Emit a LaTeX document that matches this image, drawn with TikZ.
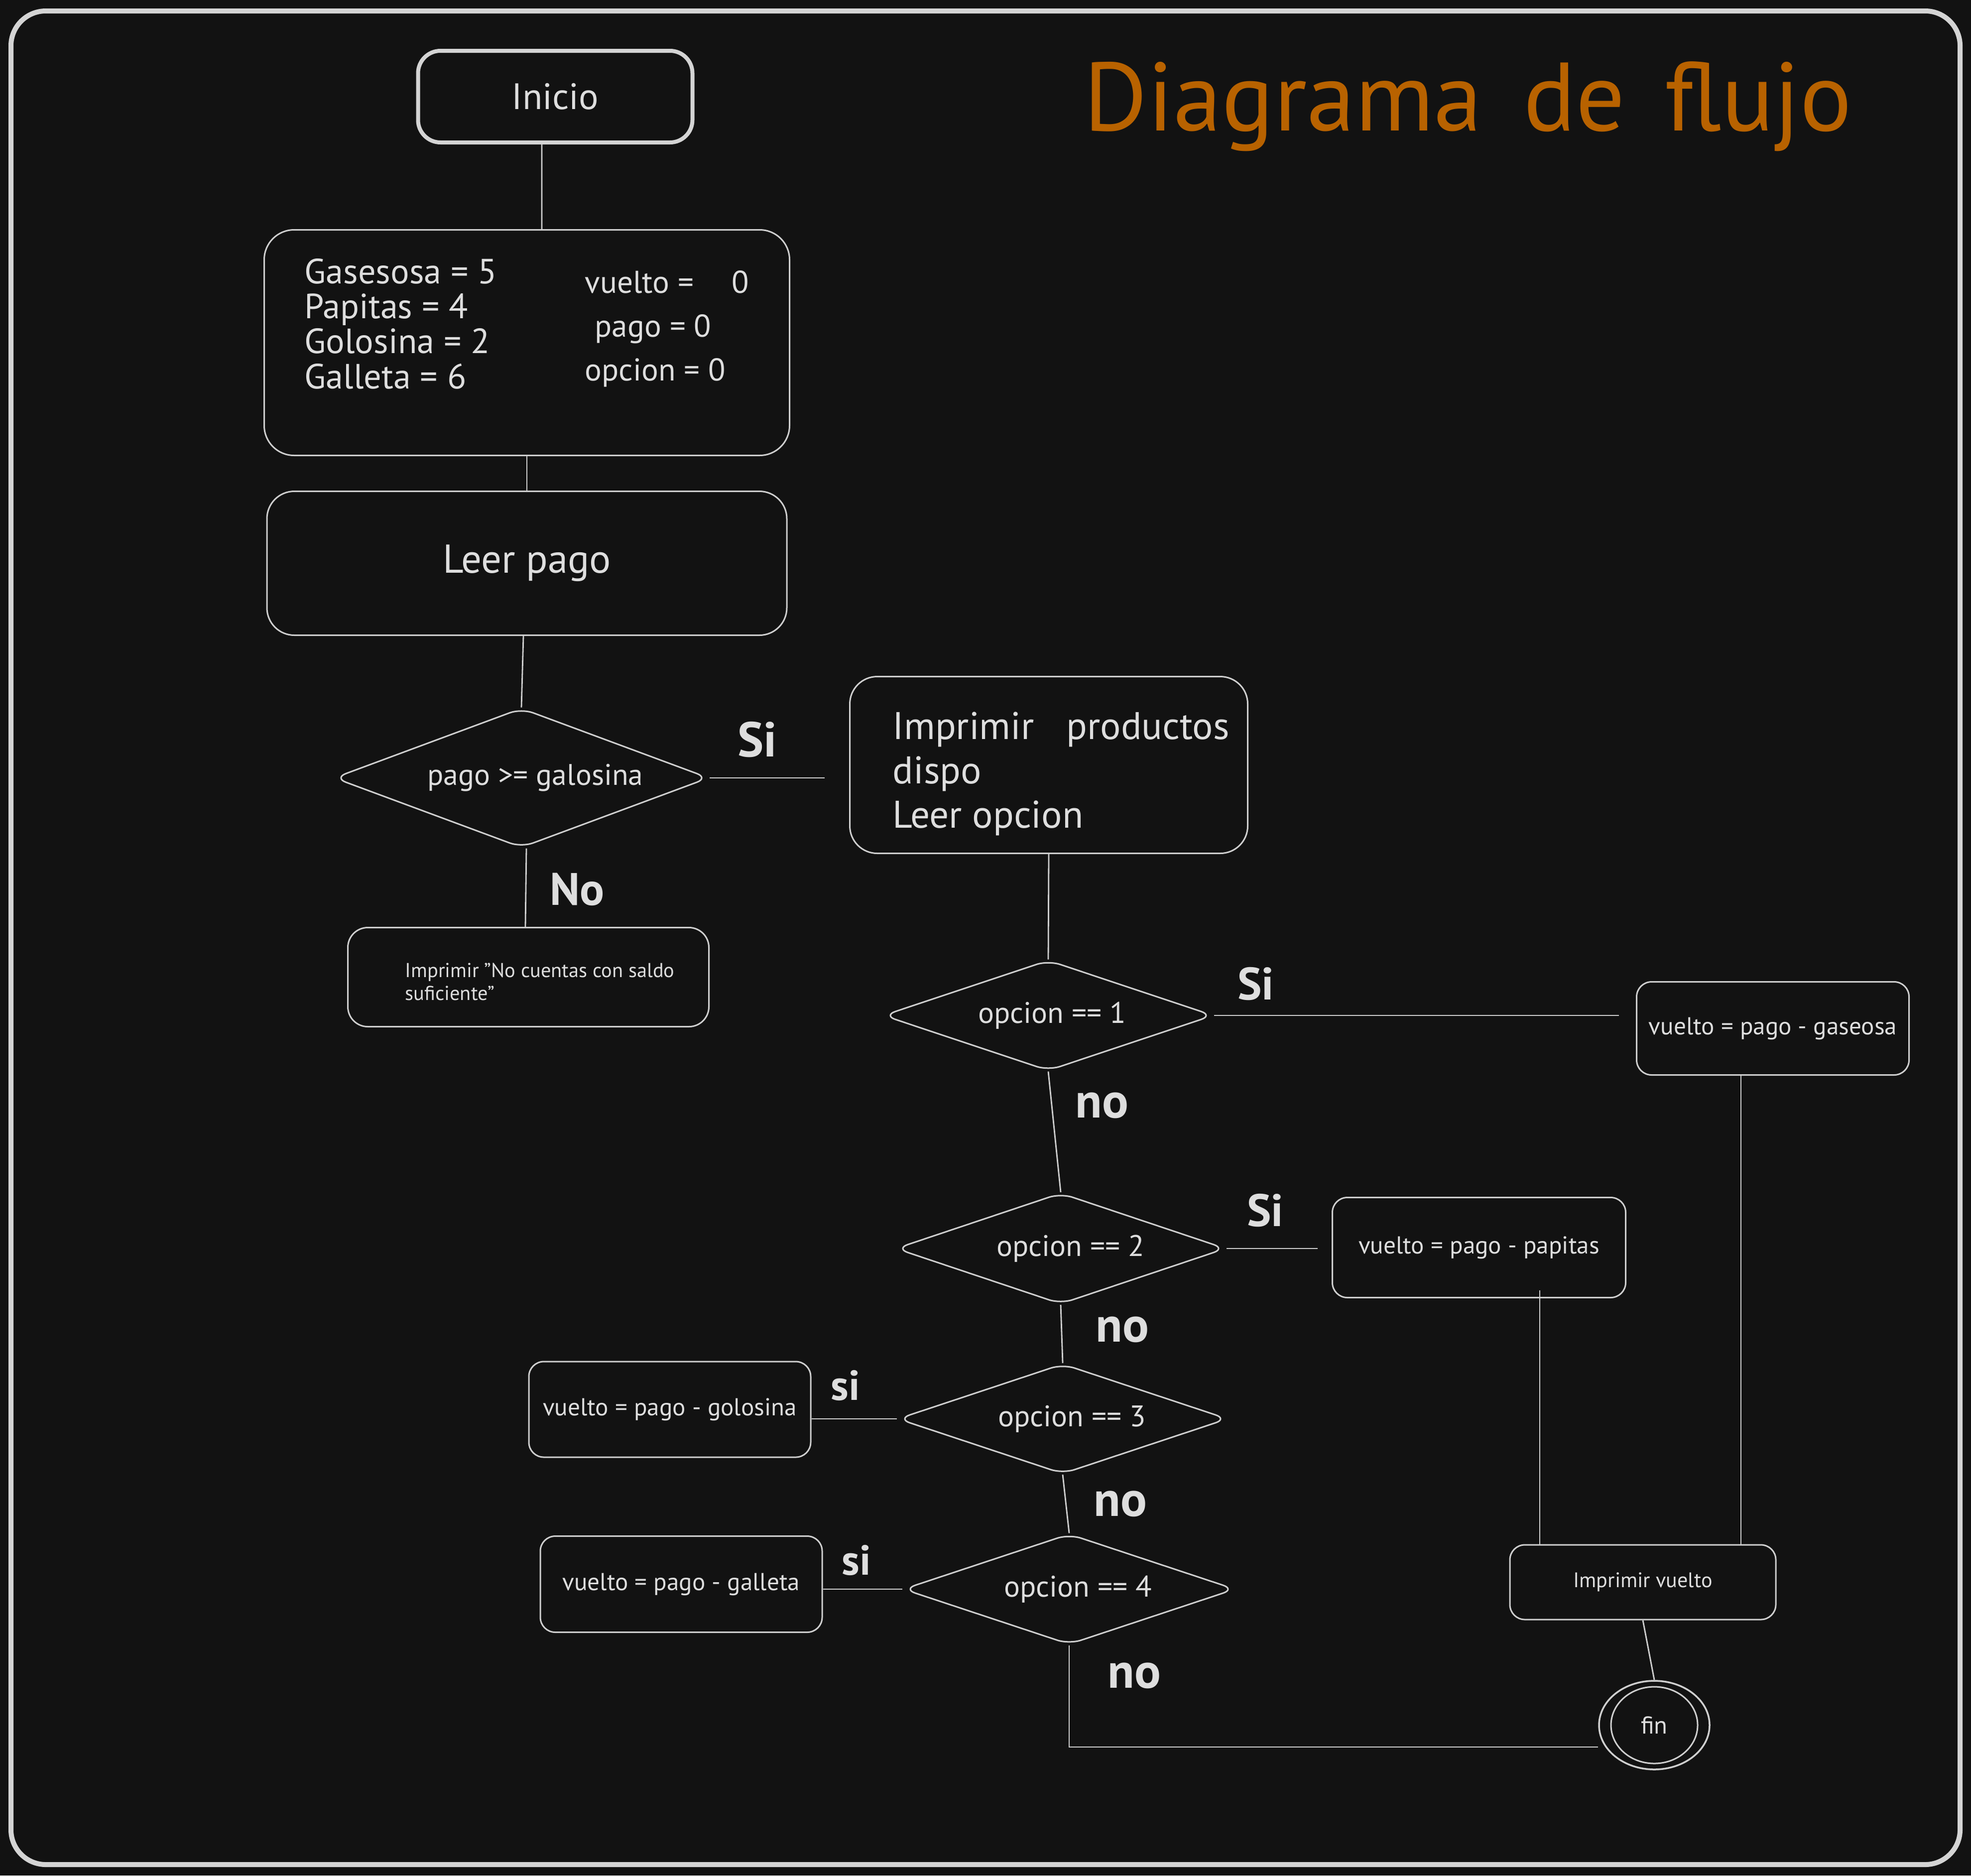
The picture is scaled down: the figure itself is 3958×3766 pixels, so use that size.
\documentclass[tikz,border=0pt]{standalone}
\usepackage{fontspec}
\setmainfont{PT Sans}
\usetikzlibrary{shapes.geometric}
\definecolor{bgc}{HTML}{121212}
\definecolor{ink}{HTML}{DEDEDE}
\definecolor{strk}{HTML}{CFCFCF}
\definecolor{frm}{HTML}{D4D4D4}
\definecolor{titlec}{HTML}{B86200}
\newcommand{\fsz}[2]{\fontsize{#1}{#2}\selectfont}
\begin{document}
\begin{tikzpicture}[x=0.1mm,y=-0.1mm,
  box/.style={draw=strk, line width=0.3mm, rounded corners=3mm, inner sep=0, text=ink},
  dia/.style={draw=strk, line width=0.3mm, diamond, rounded corners=2.5mm, inner sep=0},
  dtext/.style={text=ink, font=\fsz{17}{20}, inner sep=0},
  conn/.style={draw=strk, line width=0.28mm},
  lbl/.style={text=ink, font=\bfseries\fsz{28}{30}, inner sep=0},
  lblsmall/.style={text=ink, font=\bfseries\fsz{24}{26}, inner sep=0},
  lblno/.style={text=ink, font=\bfseries\fsz{28}{30}, inner sep=0},
  txt/.style={text=ink, inner sep=0, align=left},
]
\fill[bgc] (0,0) rectangle (3958,3766);
\useasboundingbox (0,0) rectangle (3958,3766);
\draw[frm, line width=1mm, rounded corners=7mm] (22,22) rectangle (3936,3744);

% title
\node[anchor=base west, text=titlec, font=\fsz{55.5}{58}, inner sep=0] (title) at (2176,262) {Diagrama\hspace{0.43em}de\hspace{0.41em}flujo};

% nodes
\node[box, draw=frm, line width=0.8mm, rounded corners=4.5mm, minimum width=55.1mm, minimum height=18.4mm, font=\fsz{21}{24}] (inicio) at (1115,194) {Inicio};

\node[box, rounded corners=6mm, minimum width=105.5mm, minimum height=45.3mm] (vars) at (1058,688) {};
\node[txt, anchor=west, font=\fsz{20}{20}] (varsL) at (611,650) {Gasesosa = 5\\Papitas = 4\\Golosina = 2\\Galleta = 6};
\node[txt, anchor=west, font=\fsz{18}{25}] (varsR) at (1174,660) {vuelto =\hspace{1.2em}0\\\hspace{2mm}pago = 0\\opcion = 0};

\node[box, rounded corners=5.5mm, minimum width=104.4mm, minimum height=28.9mm, font=\fsz{23}{26}] (leer) at (1058,1131) {Leer pago};

\node[dia, minimum width=75.3mm, minimum height=28mm, label={[dtext, xshift=2.8mm]center:pago >= galosina}] (d0) at (1047,1562) {};

\node[box, rounded corners=5.5mm, minimum width=79.9mm, minimum height=35.5mm] (prod) at (2106,1536) {};
\node[txt, anchor=west, font=\fsz{22}{25.3}] (prodT) at (1792,1554) {Imprimir\hspace{6.5mm}productos\\dispo\\Leer opcion};

\node[box, rounded corners=4mm, minimum width=72.5mm, minimum height=19.9mm] (nosaldo) at (1061,1962) {};
\node[txt, anchor=west, font=\fsz{11.5}{13}] (nosaldoT) at (813,1971) {Imprimir "No cuentas con saldo\\suficiente"};

\node[dia, minimum width=66.3mm, minimum height=22.2mm, label={[dtext, xshift=0.8mm]center:opcion == 1}] (d1) at (2105,2039) {};
\node[box, minimum width=54.7mm, minimum height=18.7mm, font=\fsz{14}{16}] (gaseosa) at (3560,2065) {vuelto = pago - gaseosa};

\node[dia, minimum width=66.3mm, minimum height=22.3mm, label={[dtext, xshift=2mm]center:opcion == 2}] (d2) at (2130,2507) {};
\node[box, minimum width=58.9mm, minimum height=20.1mm, font=\fsz{14}{16}] (papitas) at (2970,2505) {vuelto = pago - papitas};

\node[dia, minimum width=66.3mm, minimum height=22.1mm, label={[dtext, xshift=1.9mm]center:opcion == 3}] (d3) at (2134,2849) {};
\node[box, minimum width=56.6mm, minimum height=19.2mm, font=\fsz{14}{16}] (golosina) at (1345,2830) {vuelto = pago - golosina};

\node[dia, minimum width=66.7mm, minimum height=22.2mm, label={[dtext, xshift=1.8mm]center:opcion == 4}] (d4) at (2147,3191) {};
\node[box, minimum width=56.6mm, minimum height=19.3mm, font=\fsz{14}{16}] (galleta) at (1368,3181) {vuelto = pago - galleta};

\node[box, minimum width=53.4mm, minimum height=15mm, font=\fsz{12}{14}] (impv) at (3299,3177) {Imprimir vuelto};

\node[draw=strk, line width=0.35mm, ellipse, minimum width=22.2mm, minimum height=17.8mm, inner sep=0, text=ink, font=\fsz{14}{16}] (fin) at (3322,3464) {fin};
\draw[strk, line width=0.3mm] (fin.center) ellipse [x radius=8.7mm, y radius=7.7mm];

% labels
\node[lbl] (siA) at (1521,1485) {Si};
\node[lbl, font=\bfseries\fsz{26}{28}] (noA) at (1159,1786) {No};
\node[lbl, font=\bfseries\fsz{26}{28}] (siB) at (2522,1975) {Si};
\node[lbl, font=\bfseries\fsz{26}{28}] (siC) at (2541,2430) {Si};
\node[lblsmall] (siD) at (1698,2782) {si};
\node[lblsmall] (siE) at (1720,3133) {si};
\node[lblno] (noB) at (2213,2220) {no};
\node[lblno] (noC) at (2254,2670) {no};
\node[lblno] (noD) at (2250,3020) {no};
\node[lblno] (noE) at (2278,3365) {no};

% connectors
\coordinate (xg) at (3496,0);
\coordinate (xp) at (3092,0);
\coordinate (corner) at (2147,3508);
\draw[conn] ([xshift=-2.7mm]inicio.south) -- ([xshift=3mm]vars.north);
\draw[conn] (vars.south) -- (leer.north);
\draw[conn] ([xshift=-0.7mm]leer.south) -- (d0.north);
\draw[conn, shorten >=4.9mm] (d0.east) -- (d0.east -| prod.west);
\draw[conn] ([xshift=1mm]d0.south) -- ([xshift=-0.6mm]nosaldo.north);
\draw[conn] (prod.south) -- (d1.north);
\draw[conn, shorten >=3.4mm] (d1.east) -- (d1.east -| gaseosa.west);
\draw[conn] (gaseosa.south -| xg) -- (impv.north -| xg);
\draw[conn] (d1.south) -- (d2.north);
\draw[conn, shorten >=2.8mm] (d2.east) -- (d2.east -| papitas.west);
\draw[conn, shorten <=-1.6mm] (papitas.south -| xp) -- (impv.north -| xp);
\draw[conn] (d2.south) -- (d3.north);
\draw[conn] (d3.west) -- (d3.west -| golosina.east);
\draw[conn] (d3.south) -- (d4.north);
\draw[conn] (d4.west) -- (d4.west -| galleta.east);
\draw[conn] (d4.south) -- (corner) -- (corner -| fin.west);
\draw[conn] (impv.south) -- (fin.north);
\end{tikzpicture}
\end{document}
